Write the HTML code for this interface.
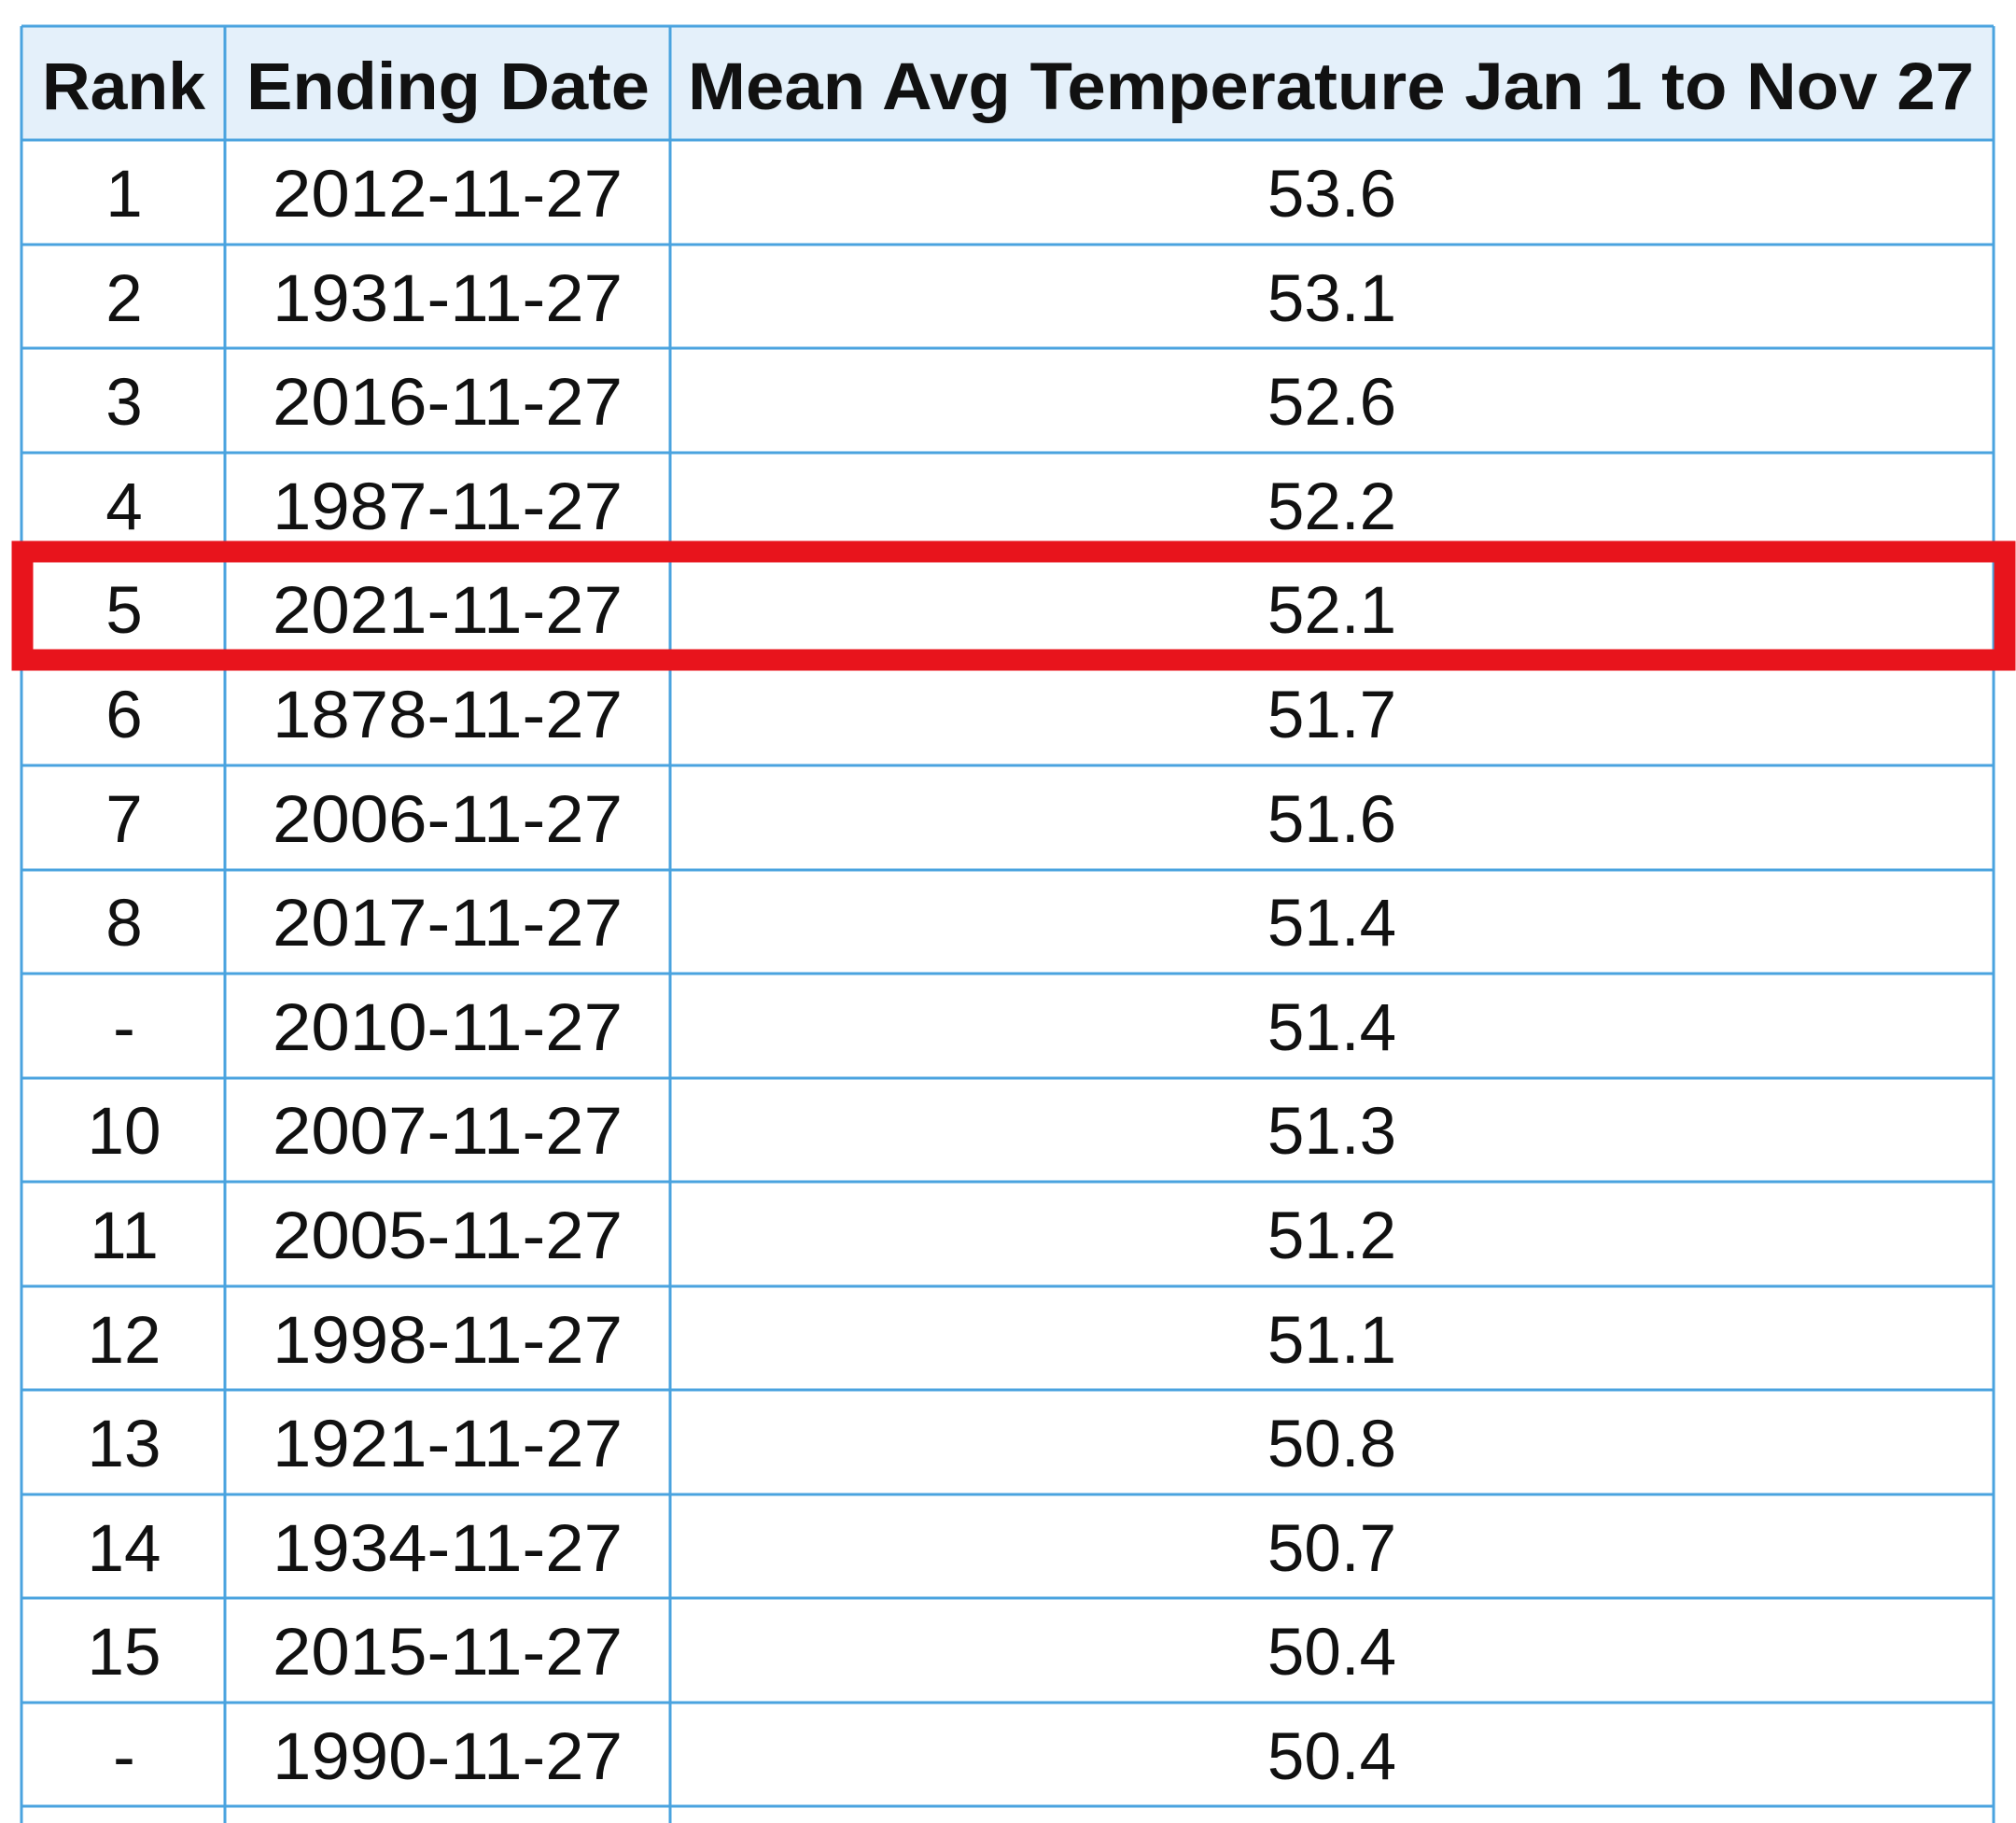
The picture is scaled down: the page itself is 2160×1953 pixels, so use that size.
<!DOCTYPE html>
<html><head><meta charset="utf-8"><style>
html,body{margin:0;padding:0;background:#fff;width:2160px;height:1953px;overflow:hidden}
svg{display:block}
text{font-family:"Liberation Sans",Arial,sans-serif;fill:#111}
</style></head><body>
<svg width="2160" height="1953" viewBox="0 0 2160 1953" xmlns="http://www.w3.org/2000/svg">
<rect x="23" y="28" width="2113" height="122" fill="#e4f0fa"/>
<g stroke="#4aa3df" stroke-width="3" fill="none">
<line x1="23" y1="28" x2="2136" y2="28"/>
<line x1="23" y1="150" x2="2136" y2="150"/>
<line x1="23" y1="262" x2="2136" y2="262"/>
<line x1="23" y1="373" x2="2136" y2="373"/>
<line x1="23" y1="485" x2="2136" y2="485"/>
<line x1="23" y1="597" x2="2136" y2="597"/>
<line x1="23" y1="708" x2="2136" y2="708"/>
<line x1="23" y1="820" x2="2136" y2="820"/>
<line x1="23" y1="932" x2="2136" y2="932"/>
<line x1="23" y1="1043" x2="2136" y2="1043"/>
<line x1="23" y1="1155" x2="2136" y2="1155"/>
<line x1="23" y1="1266" x2="2136" y2="1266"/>
<line x1="23" y1="1378" x2="2136" y2="1378"/>
<line x1="23" y1="1489" x2="2136" y2="1489"/>
<line x1="23" y1="1601" x2="2136" y2="1601"/>
<line x1="23" y1="1712" x2="2136" y2="1712"/>
<line x1="23" y1="1824" x2="2136" y2="1824"/>
<line x1="23" y1="1935" x2="2136" y2="1935"/>
<line x1="23" y1="28" x2="23" y2="1953"/>
<line x1="241" y1="28" x2="241" y2="1953"/>
<line x1="718" y1="28" x2="718" y2="1953"/>
<line x1="2136" y1="28" x2="2136" y2="1953"/>
</g>
<g font-weight="bold" font-size="71">
<text x="45" y="117" textLength="175" lengthAdjust="spacingAndGlyphs">Rank</text>
<text x="264" y="117" textLength="432" lengthAdjust="spacingAndGlyphs">Ending Date</text>
<text x="737" y="117" textLength="1378" lengthAdjust="spacingAndGlyphs">Mean Avg Temperature Jan 1 to Nov 27</text>
</g>
<g font-size="71" text-anchor="middle">
<text x="133" y="232">1</text><text x="133" y="344">2</text><text x="133" y="455">3</text><text x="133" y="567">4</text>
<text x="133" y="678">5</text><text x="133" y="790">6</text><text x="133" y="902">7</text><text x="133" y="1013">8</text>
<text x="133" y="1125">-</text><text x="133" y="1236">10</text><text x="133" y="1348">11</text><text x="133" y="1460">12</text>
<text x="133" y="1571">13</text><text x="133" y="1683">14</text><text x="133" y="1794">15</text><text x="133" y="1906">-</text>
<text x="1427" y="232">53.6</text><text x="1427" y="344">53.1</text><text x="1427" y="455">52.6</text><text x="1427" y="567">52.2</text>
<text x="1427" y="678">52.1</text><text x="1427" y="790">51.7</text><text x="1427" y="902">51.6</text><text x="1427" y="1013">51.4</text>
<text x="1427" y="1125">51.4</text><text x="1427" y="1236">51.3</text><text x="1427" y="1348">51.2</text><text x="1427" y="1460">51.1</text>
<text x="1427" y="1571">50.8</text><text x="1427" y="1683">50.7</text><text x="1427" y="1794">50.4</text><text x="1427" y="1906">50.4</text>
</g>
<g font-size="71">
<text x="292" y="232" textLength="375" lengthAdjust="spacingAndGlyphs">2012-11-27</text>
<text x="292" y="344" textLength="375" lengthAdjust="spacingAndGlyphs">1931-11-27</text>
<text x="292" y="455" textLength="375" lengthAdjust="spacingAndGlyphs">2016-11-27</text>
<text x="292" y="567" textLength="375" lengthAdjust="spacingAndGlyphs">1987-11-27</text>
<text x="292" y="678" textLength="375" lengthAdjust="spacingAndGlyphs">2021-11-27</text>
<text x="292" y="790" textLength="375" lengthAdjust="spacingAndGlyphs">1878-11-27</text>
<text x="292" y="902" textLength="375" lengthAdjust="spacingAndGlyphs">2006-11-27</text>
<text x="292" y="1013" textLength="375" lengthAdjust="spacingAndGlyphs">2017-11-27</text>
<text x="292" y="1125" textLength="375" lengthAdjust="spacingAndGlyphs">2010-11-27</text>
<text x="292" y="1236" textLength="375" lengthAdjust="spacingAndGlyphs">2007-11-27</text>
<text x="292" y="1348" textLength="375" lengthAdjust="spacingAndGlyphs">2005-11-27</text>
<text x="292" y="1460" textLength="375" lengthAdjust="spacingAndGlyphs">1998-11-27</text>
<text x="292" y="1571" textLength="375" lengthAdjust="spacingAndGlyphs">1921-11-27</text>
<text x="292" y="1683" textLength="375" lengthAdjust="spacingAndGlyphs">1934-11-27</text>
<text x="292" y="1794" textLength="375" lengthAdjust="spacingAndGlyphs">2015-11-27</text>
<text x="292" y="1906" textLength="375" lengthAdjust="spacingAndGlyphs">1990-11-27</text>
</g>
<rect x="24" y="591" width="2124" height="116" fill="none" stroke="#e8141c" stroke-width="23"/>
</svg>
</body></html>
